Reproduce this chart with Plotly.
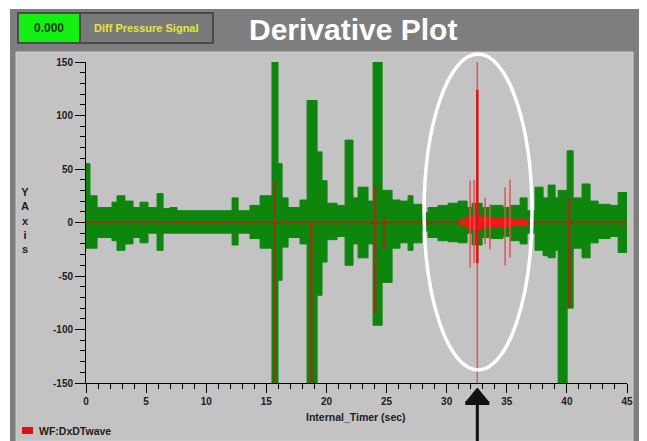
import plotly.graph_objects as go

# ---------------- data ----------------
# green signal envelope: step start times (sec), upper and lower values
env_t = [0.0, 0.33, 0.92, 2.16, 2.58, 3.24, 3.91, 4.49, 5.16, 5.91, 6.41, 6.99, 7.57, 12.15, 12.65,
         13.64, 14.48, 15.47, 15.97, 16.31, 16.81, 17.80, 18.39, 19.22, 19.63, 20.05, 20.88, 21.55,
         22.21, 22.63, 23.46, 23.88, 24.63, 25.46, 26.12, 26.79, 27.20, 27.95, 28.45, 29.28, 30.12,
         30.95, 31.70, 32.11, 32.95, 33.61, 34.69, 35.27, 36.11, 36.69, 37.35, 38.02, 38.44, 39.02,
         39.27, 40.02, 40.52, 41.26, 41.93, 42.60, 43.59, 44.26]
env_hi = [55, 25, 14, 19, 25, 20, 14, 19, 14, 27, 13, 14, 11, 23, 11, 16, 25, 150, 55, 23, 14, 21,
          114, 66, 39, 18, 16, 77, 23, 33, 20, 150, 30, 21, 20, 25, 17, 9, 14, 16, 18, 20, 14, 18,
          14, 16, 14, 16, 23, 11, 33, 23, 35, 23, 30, 67, 23, 36, 20, 17, 16, 28]
env_lo = [-24, -24, -14, -17, -26, -20, -14, -19, -10, -26, -10, -10, -10, -21, -10, -15, -24, -150,
          -54, -23, -14, -20, -150, -68, -37, -16, -13, -40, -20, -33, -20, -96, -56, -24, -19, -26,
          -19, -8, -14, -17, -18, -19, -10, -21, -14, -15, -13, -17, -20, -10, -26, -31, -33, -26,
          -150, -80, -24, -33, -19, -15, -13, -28]
t_end = 45.0

# red derivative wave: baseline, dense burst and spikes
base_t = [0.0, 45.0]
base_v = [0, 0]
blob_t = [31.1, 31.7, 32.95, 33.6, 35.3, 36.8]
blob_hi = [3, 6, 5, 4, 3, 3]
blob_lo = [-3, -6, -4, -4, -3, -3]
dark_spike_t = [15.7, 18.75, 24.05, 24.8, 40.2]
dark_spike_hi = [39, 0, 35, 5, 23]
dark_spike_lo = [-150, -150, -85, -25, -80]
red_spike_t = [31.95, 32.28, 33.2, 33.6, 34.86, 35.27]
red_spike_hi = [39, 40, 23, 17, 33, 40]
red_spike_lo = [-42, -38, -20, -25, -40, -33]
main_spike_t = 32.55
main_spike_full = [160, -160]
main_spike_core = [124, -38]
cursor_t = 32.55

x_ticks = [0, 5, 10, 15, 20, 25, 30, 35, 40, 45]
y_ticks = [-150, -100, -50, 0, 50, 100, 150]

# ---------------- layout helpers (reference pixel -> paper) ----------------
OFF = 8                      # page body margin
W, H = 647 - OFF, 441 - OFF
L, R, T, B = 78, 20, 54, 58
PW, PH = W - L - R, H - T - B


def X(px):
    return (px - OFF - L) / PW


def Y(py):
    return (H - B - (py - OFF)) / PH


FONT = "Liberation Sans, Arial, sans-serif"
GREEN = "#0e860e"
BROWN = "#8e3a12"

fig = go.Figure()

# green envelope (step fill)
fig.add_trace(go.Scatter(x=env_t + [t_end], y=env_lo + [env_lo[-1]], mode="lines",
                         line=dict(color=GREEN, width=1, shape="hv"), hoverinfo="skip",
                         showlegend=False))
fig.add_trace(go.Scatter(x=env_t + [t_end], y=env_hi + [env_hi[-1]], mode="lines",
                         line=dict(color=GREEN, width=1, shape="hv"), fill="tonexty",
                         fillcolor=GREEN, hoverinfo="skip", showlegend=False))

# red baseline
fig.add_trace(go.Scatter(x=base_t, y=base_v, mode="lines", line=dict(color=BROWN, width=3),
                         hoverinfo="skip", showlegend=False))


def seg(ts, his, los):
    xs, ys = [], []
    for t, h, l in zip(ts, his, los):
        xs += [t, t, None]
        ys += [h, l, None]
    return xs, ys


xs, ys = seg(dark_spike_t, dark_spike_hi, dark_spike_lo)
fig.add_trace(go.Scatter(x=xs, y=ys, mode="lines", line=dict(color=BROWN, width=2.5),
                         hoverinfo="skip", showlegend=False))

# red burst
fig.add_trace(go.Scatter(x=blob_t, y=blob_lo, mode="lines", line=dict(color="#f01818", width=1, shape="hv"),
                         hoverinfo="skip", showlegend=False))
fig.add_trace(go.Scatter(x=blob_t, y=blob_hi, mode="lines", line=dict(color="#f01818", width=1, shape="hv"),
                         fill="tonexty", fillcolor="#f01818", hoverinfo="skip", showlegend=False))

xs, ys = seg(red_spike_t, red_spike_hi, red_spike_lo)
fig.add_trace(go.Scatter(x=xs, y=ys, mode="lines", line=dict(color="#e85050", width=1.5),
                         hoverinfo="skip", showlegend=False))
fig.add_trace(go.Scatter(x=[main_spike_t, main_spike_t], y=main_spike_full, mode="lines",
                         line=dict(color="#e05858", width=1.5), hoverinfo="skip", showlegend=False))
fig.add_trace(go.Scatter(x=[main_spike_t, main_spike_t], y=main_spike_core, mode="lines",
                         line=dict(color="#d41818", width=2.5), hoverinfo="skip", showlegend=False,
                         name="WF:DxDTwave"))

shapes = [
    # outer dark frame
    dict(type="rect", xref="paper", yref="paper", x0=X(10), x1=X(643), y0=Y(441), y1=Y(9),
         fillcolor="#7e7e7e", line=dict(width=0), layer="below"),
    # light panel
    dict(type="rect", xref="paper", yref="paper", x0=X(16), x1=X(633), y0=Y(441), y1=Y(52),
         fillcolor="#c3c3c3", line=dict(color="#d0d0d0", width=1), layer="below"),
    # value indicator
    dict(type="rect", xref="paper", yref="paper", x0=X(18), x1=X(80), y0=Y(43), y1=Y(13),
         fillcolor="#14f014", line=dict(color="#4a4a4a", width=2)),
    dict(type="rect", xref="paper", yref="paper", x0=X(80), x1=X(213), y0=Y(43), y1=Y(13),
         fillcolor="#7a7a7a", line=dict(color="#4a4a4a", width=2)),
    # legend swatch
    dict(type="rect", xref="paper", yref="paper", x0=X(22), x1=X(33), y0=Y(434), y1=Y(427),
         fillcolor="#e01010", line=dict(width=0)),
    # highlight ellipse
    dict(type="circle", xref="x", yref="paper", x0=28.12, x1=37.1, y0=Y(370), y1=Y(54),
         line=dict(color="white", width=3.5)),
    # cursor marker
    dict(type="path", xref="x", yref="paper",
         path=f"M {cursor_t},{Y(388)} L {cursor_t - 0.95},{Y(402)} L {cursor_t + 0.95},{Y(402)} Z",
         fillcolor="#111111", line=dict(color="#111111", width=1)),
    dict(type="rect", xref="x", yref="paper", x0=cursor_t - 1.0, x1=cursor_t + 1.0, y0=Y(405), y1=Y(401),
         fillcolor="#111111", line=dict(width=0)),
    dict(type="line", xref="x", yref="paper", x0=cursor_t, x1=cursor_t, y0=Y(441), y1=Y(403),
         line=dict(color="#111111", width=3)),
]

annotations = [
    dict(text="Derivative Plot", xref="paper", yref="paper", x=X(353), y=Y(29), showarrow=False,
         xanchor="center", yanchor="middle", font=dict(family=FONT, size=30, color="white", weight="bold")),
    dict(text="0.000", xref="paper", yref="paper", x=X(49), y=Y(28), showarrow=False,
         xanchor="center", yanchor="middle", font=dict(family=FONT, size=12, color="#1a3a1a", weight="bold")),
    dict(text="Diff Pressure Signal", xref="paper", yref="paper", x=X(146), y=Y(28), showarrow=False,
         xanchor="center", yanchor="middle", font=dict(family=FONT, size=11, color="#e6e640", weight="bold")),
    dict(text="Internal_Timer (sec)", xref="paper", yref="paper", x=X(356), y=Y(417), showarrow=False,
         xanchor="center", yanchor="middle", font=dict(family=FONT, size=10.5, color="#202020", weight="bold")),
    dict(text="Y<br>A<br>x<br>i<br>s", xref="paper", yref="paper", x=X(25), y=Y(220), showarrow=False,
         xanchor="center", yanchor="middle", align="center",
         font=dict(family=FONT, size=11, color="#202020", weight="bold")),
    dict(text="WF:DxDTwave", xref="paper", yref="paper", x=X(37), y=Y(431), showarrow=False,
         xanchor="left", yanchor="middle", font=dict(family=FONT, size=10.5, color="#202020", weight="bold")),
]

tickfont = dict(family=FONT, size=10, color="#202020", weight="bold")

fig.update_layout(
    width=W, height=H, autosize=False,
    margin=dict(l=L, r=R, t=T, b=B, pad=0),
    paper_bgcolor="white", plot_bgcolor="rgba(0,0,0,0)",
    shapes=shapes, annotations=annotations, showlegend=False,
    xaxis=dict(range=[0, 45], tickvals=x_ticks, ticktext=[str(v) for v in x_ticks],
               ticks="outside", ticklen=9, tickwidth=1, tickcolor="black",
               showline=True, linecolor="black", linewidth=1, showgrid=False, zeroline=False,
               tickfont=tickfont, fixedrange=True,
               minor=dict(dtick=1, ticks="outside", ticklen=5, tickcolor="black", showgrid=False)),
    yaxis=dict(range=[-150, 150], tickvals=y_ticks, ticktext=[str(v) for v in y_ticks],
               ticks="outside", ticklen=10, tickwidth=1, tickcolor="black",
               showline=True, linecolor="black", linewidth=1, showgrid=False, zeroline=False,
               tickfont=tickfont, fixedrange=True,
               minor=dict(dtick=10, ticks="outside", ticklen=5, tickcolor="black", showgrid=False)),
)

fig.write_html("out.html")
